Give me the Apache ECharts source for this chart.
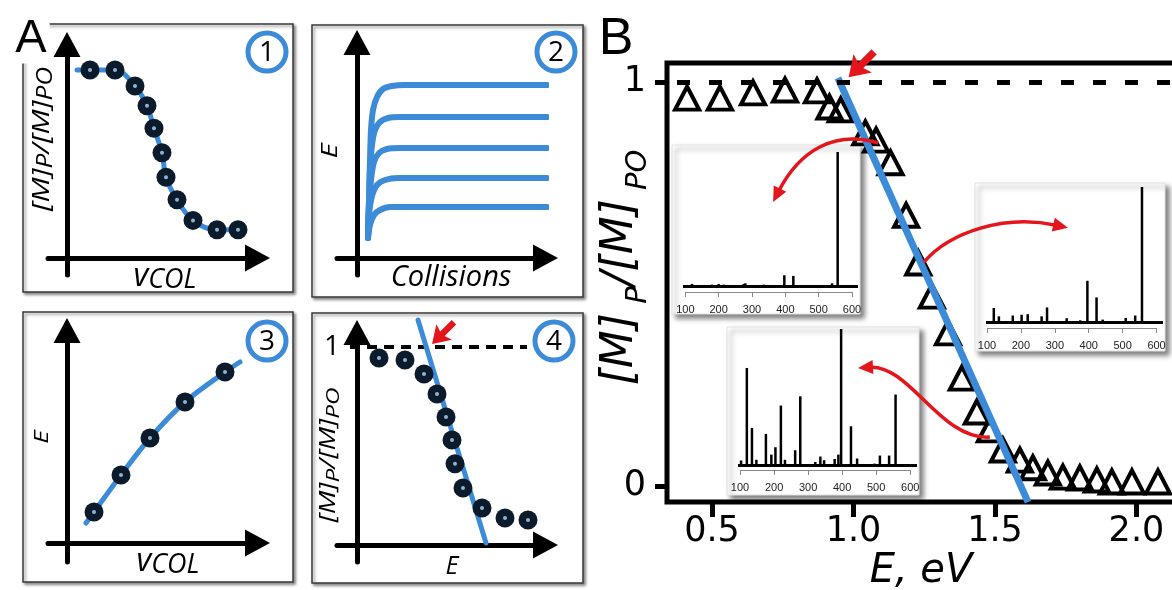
<!DOCTYPE html>
<html>
<head>
<meta charset="utf-8">
<script src="https://cdn.jsdelivr.net/npm/echarts@6/dist/echarts.min.js"></script>
<style>
  html, body { margin: 0; padding: 0; background: #fff; }
  #c { width: 1172px; height: 590px; }
</style>
</head>
<body>
<div id="c"></div>
<script>
// ---------- Panel A, sketch 1: normalised precursor signal vs collision voltage ----------
const a1FitX = [0.5, 1.15, 2.4, 3.4, 4.0, 4.35, 4.75, 4.95, 5.5, 6.3, 7.5, 8.55];
const a1FitY = [1.0, 1.0, 1.0, 0.915, 0.81, 0.69, 0.56, 0.43, 0.31, 0.2, 0.15, 0.15];
const a1DotX = [1.15, 2.4, 3.4, 4.0, 4.35, 4.75, 4.95, 5.5, 6.3, 7.5, 8.55];
const a1DotY = [1.0, 1.0, 0.915, 0.81, 0.69, 0.56, 0.43, 0.31, 0.2, 0.15, 0.15];

// ---------- sketch 2: internal energy vs number of collisions (one curve per voltage) ----------
const a2CurveX = [
  [0.55, 0.6, 0.65, 0.7, 0.8, 1.0, 1.3, 1.75, 2.4, 9.5],
  [0.55, 0.6, 0.65, 0.75, 0.9, 1.15, 1.55, 2.15, 9.5],
  [0.55, 0.6, 0.7, 0.85, 1.1, 1.5, 2.15, 9.5],
  [0.55, 0.6, 0.75, 1.0, 1.4, 2.05, 9.5],
  [0.55, 0.65, 0.85, 1.15, 1.65, 2.4, 9.5]
];
const a2CurveY = [
  [1.0, 2.9, 4.9, 6.4, 7.4, 8.05, 8.45, 8.6, 8.65, 8.65],
  [1.0, 2.9, 4.4, 5.65, 6.4, 6.8, 7.0, 7.05, 7.05],
  [1.0, 2.65, 3.9, 4.8, 5.25, 5.45, 5.5, 5.5],
  [1.0, 2.15, 3.1, 3.65, 3.9, 4.0, 4.0],
  [1.0, 1.65, 2.15, 2.4, 2.55, 2.55, 2.55]
];

// ---------- sketch 3: energy vs collision voltage ----------
const a3FitX = [0.95, 1.35, 2.7, 4.15, 5.9, 7.9, 8.65];
const a3FitY = [1.0, 1.55, 3.4, 5.25, 7.05, 8.55, 9.05];
const a3DotX = [1.35, 2.7, 4.15, 5.9, 7.9];
const a3DotY = [1.55, 3.4, 5.25, 7.05, 8.55];

// ---------- sketch 4: survival vs energy with linear onset fit ----------
const a4DotX = [1.1, 2.4, 3.35, 4.0, 4.45, 4.75, 4.9, 5.3, 6.25, 7.4, 8.55];
const a4DotY = [0.944, 0.934, 0.864, 0.763, 0.646, 0.53, 0.41, 0.288, 0.187, 0.136, 0.126];
const a4FitX = [3.05, 6.45];
const a4FitY = [1.136, 0.01];
const a4UnityX = [-0.35, 8.5];

// ---------- Panel B: measured survival yield vs collision energy ----------
const bEnergy = [0.412, 0.528, 0.645, 0.758, 0.871, 0.915, 0.955, 1.042, 1.080, 1.131, 1.186, 1.229,
  1.277, 1.334, 1.383, 1.436, 1.482, 1.528, 1.588, 1.634, 1.687, 1.740, 1.800, 1.860, 1.913, 1.984, 2.076];
const bSurvival = [0.960, 0.960, 0.973, 0.980, 0.978, 0.938, 0.931, 0.874, 0.856, 0.800, 0.670, 0.552,
  0.470, 0.379, 0.267, 0.183, 0.139, 0.089, 0.064, 0.045, 0.032, 0.022, 0.020, 0.015, 0.010, 0.010, 0.010];
const bFitE = [0.945, 1.617];
const bFitS = [1.01, -0.04];
const bTicksE = [0.5, 1.0, 1.5, 2.0];
const bTicksS = [0, 1];

// ---------- inset mass spectra (m/z, relative intensity %) ----------
const spec1Mz  = [120, 180, 200, 215, 275, 280, 335, 397, 424, 540, 557];
const spec1Int = [1.5, 1, 1.5, 1, 1.5, 2, 1, 8, 7.5, 2, 100];
const spec2Mz  = [103, 120, 135, 176, 202, 220, 261, 277, 335, 375, 396, 423, 441, 509, 537, 557];
const spec2Int = [1, 10.6, 4.4, 5, 5.6, 6, 4.4, 11, 3, 1.5, 30.7, 18.4, 2, 3.2, 5, 100];
const spec3Mz  = [103, 120, 135, 148, 176, 192, 204, 220, 232, 262, 277, 321, 336, 347, 378, 389, 397,
  426, 444, 495, 511, 538, 557];
const spec3Int = [3.5, 71.4, 27.4, 4, 23, 7.8, 13.2, 43.8, 4, 11, 50.6, 2.4, 6.4, 3.7, 4.6, 7.8, 100,
  28.6, 4.9, 1.2, 7.1, 7.1, 51.9];
const mzTicks = [100, 200, 300, 400, 500, 600];

// annotation arrows in panel B, cubic Bezier control points in (eV, fraction) units
const bCurvedArrows = [
  [[1.087, 0.849], [0.935, 0.881], [0.811, 0.832], [0.716, 0.703]],
  [[1.249, 0.554], [1.341, 0.629], [1.535, 0.673], [1.758, 0.639]],
  [[1.482, 0.121], [1.306, 0.114], [1.200, 0.300], [1.016, 0.292]]
];

const zip = (xs, ys) => xs.map((x, i) => [x, ys[i]]);

const BLUE = '#3b8bd9';
const NAVY = '#0c1b2c';
const RED = '#e4151b';
const ARROW_PATH = 'path://M14,0 L28,21 L18,18 L18,38 L10,38 L10,18 L0,21 Z';
const ITALIC = 'Open Sans';
const SANS = 'Liberation Sans';
const WIDE = 'DejaVu Sans';

// ---------- layout: panel A sketches ----------
const sketches = [
  { left: 48,  top: 44.5,  width: 209.5, height: 230.5, x: [-0.95, 9.525], y: [-0.0904, 1.1356] },
  { left: 337, top: 42.5,  width: 208.5, height: 232.5, x: [-1.0, 9.425],  y: [-0.85, 10.775] },
  { left: 48,  top: 330.5, width: 209.5, height: 231.5, x: [-0.95, 9.525], y: [-0.95, 10.625] },
  { left: 337, top: 332.5, width: 208.5, height: 229.5, x: [-1.0, 9.425],  y: [-0.0859, 1.0732] }
];
const insets = [
  { left: 683, top: 152, width: 175, height: 140, x: [93, 618], y: [-4.5, 100] },
  { left: 986, top: 187, width: 177, height: 141, x: [97, 619], y: [-4.2, 100] },
  { left: 738, top: 329, width: 179, height: 141, x: [94, 620], y: [-3.5, 100] }
];
// the main frame runs on past the right edge of the canvas
const B = { left: 667, top: 63, width: 530, height: 439, x: [0.341, 2.214], y: [-0.0396, 1.047] };

const grids = [], xAxes = [], yAxes = [], series = [];

sketches.forEach((s, i) => {
  grids.push({ left: s.left, top: s.top, width: s.width, height: s.height, outerBoundsMode: 'none' });
  const line = {
    show: true, onZero: true, symbol: ['none', 'triangle'], symbolSize: [27, 25],
    lineStyle: { color: '#000', width: 5 }
  };
  xAxes.push({ type: 'value', gridIndex: i, min: s.x[0], max: s.x[1], axisLine: line,
    axisTick: { show: false }, axisLabel: { show: false }, splitLine: { show: false } });
  yAxes.push({ type: 'value', gridIndex: i, min: s.y[0], max: s.y[1], axisLine: line,
    axisTick: { show: false }, splitLine: { show: false },
    axisLabel: i === 3
      ? { show: true, customValues: [1], margin: -3, fontSize: 28, fontFamily: ITALIC, color: '#000' }
      : { show: false } });
});

// panel B main frame
grids.push({ left: B.left, top: B.top, width: B.width, height: B.height, show: true, outerBoundsMode: 'none',
  borderColor: '#000', borderWidth: 5, backgroundColor: 'transparent' });
xAxes.push({
  type: 'value', gridIndex: 4, min: B.x[0], max: B.x[1],
  axisLine: { show: false, onZero: false },
  axisTick: { show: true, customValues: bTicksE, length: 15, lineStyle: { color: '#000', width: 5 } },
  axisLabel: { show: true, customValues: bTicksE, margin: 12, fontSize: 35, fontFamily: WIDE, color: '#000',
    formatter: v => v.toFixed(1) },
  splitLine: { show: false },
  name: 'E, eV', nameLocation: 'middle', nameGap: 50, nameMoveOverlap: false,
  nameTextStyle: { fontSize: 40, fontStyle: 'italic', fontFamily: WIDE, color: '#000', padding: [0, 22, 0, 0] }
});
yAxes.push({
  type: 'value', gridIndex: 4, min: B.y[0], max: B.y[1],
  axisLine: { show: false, onZero: false },
  axisTick: { show: true, customValues: bTicksS, length: 12, lineStyle: { color: '#000', width: 5 } },
  axisLabel: { show: true, customValues: bTicksS, margin: 21, fontSize: 35, fontFamily: WIDE, color: '#000' },
  splitLine: { show: false },
  name: '{m|[M]}{s| P}{m|/[M]}{s| PO}', nameLocation: 'middle', nameRotate: 90, nameGap: 14,
  nameMoveOverlap: false,
  nameTextStyle: {
    padding: [0, 0, 0, 30],
    rich: {
      m: { fontSize: 44, fontStyle: 'italic', fontFamily: WIDE, color: '#000', lineHeight: 64, verticalAlign: 'middle' },
      s: { fontSize: 29, fontStyle: 'italic', fontFamily: WIDE, color: '#000', lineHeight: 30, verticalAlign: 'bottom' }
    }
  }
});

// inset spectra axes
insets.forEach((s, k) => {
  const gi = 5 + k;
  grids.push({ left: s.left, top: s.top, width: s.width, height: s.height, outerBoundsMode: 'none' });
  xAxes.push({
    type: 'value', gridIndex: gi, min: s.x[0], max: s.x[1], z: 5,
    axisLine: { show: false, onZero: false },
    axisTick: { show: true, customValues: mzTicks, length: 5, lineStyle: { color: '#888', width: 1 } },
    axisLabel: { show: true, customValues: mzTicks, margin: 12, fontSize: 11, fontFamily: SANS, color: '#222' },
    splitLine: { show: false }
  });
  yAxes.push({ type: 'value', gridIndex: gi, min: s.y[0], max: s.y[1], show: false, splitLine: { show: false } });
});

// ---------- series: panel A ----------
const dots = (gi, xs, ys) => [
  { type: 'scatter', xAxisIndex: gi, yAxisIndex: gi, data: zip(xs, ys), symbol: 'circle', symbolSize: 19,
    itemStyle: { color: NAVY, opacity: 1 }, z: 4, silent: true },
  { type: 'scatter', xAxisIndex: gi, yAxisIndex: gi, data: zip(xs, ys), symbol: 'circle', symbolSize: 4,
    itemStyle: { color: '#8fb4d4', opacity: 1 }, z: 5, silent: true }
];
const blueLine = (gi, data, width, smooth) => ({
  type: 'line', xAxisIndex: gi, yAxisIndex: gi, data, showSymbol: false, smooth,
  clip: false, lineStyle: { color: BLUE, width, cap: 'round', join: 'round' }, z: 3, silent: true
});

series.push(blueLine(0, zip(a1FitX, a1FitY), 5, 0.35), ...dots(0, a1DotX, a1DotY));
a2CurveX.forEach((xs, i) => series.push(blueLine(1, zip(xs, a2CurveY[i]), 6, 0.3)));
series.push(blueLine(2, zip(a3FitX, a3FitY), 5, 0.35), ...dots(2, a3DotX, a3DotY));
series.push({
  type: 'line', xAxisIndex: 3, yAxisIndex: 3, data: zip(a4UnityX, [1, 1]), showSymbol: false, clip: false,
  lineStyle: { color: '#000', width: 4, type: [10, 7] }, z: 3, silent: true
});
series.push(Object.assign(blueLine(3, zip(a4FitX, a4FitY), 5, false), {
  markPoint: { symbol: ARROW_PATH, symbolSize: [22, 31], symbolRotate: 135, silent: true,
    itemStyle: { color: RED }, label: { show: false }, data: [{ coord: [4.3, 1.07] }] }
}));
series.push(...dots(3, a4DotX, a4DotY));

// ---------- series: panel B ----------
series.push({
  type: 'scatter', xAxisIndex: 4, yAxisIndex: 4, data: zip(bEnergy, bSurvival),
  symbol: 'triangle', symbolSize: [24, 23],
  itemStyle: { color: 'rgba(0,0,0,0)', borderColor: '#000', borderWidth: 4, opacity: 1,
    borderJoin: 'miter', borderMiterLimit: 10 },
  z: 3, silent: true,
  markLine: {
    silent: true, symbol: ['none', 'none'], label: { show: false },
    lineStyle: { color: '#000', width: 5, type: [13, 19], dashOffset: 22 },
    data: [{ yAxis: 1 }]
  }
});
series.push({
  type: 'line', xAxisIndex: 4, yAxisIndex: 4, data: zip(bFitE, bFitS), showSymbol: false, clip: false,
  lineStyle: { color: BLUE, width: 7 }, z: 4, silent: true,
  markPoint: { symbol: ARROW_PATH, symbolSize: [26, 36], symbolRotate: 135, silent: true,
    itemStyle: { color: RED }, label: { show: false }, data: [{ coord: [1.028, 1.043] }] }
});
series.push({
  type: 'custom', xAxisIndex: 4, yAxisIndex: 4, z: 6, silent: true, clip: false,
  data: bCurvedArrows.map(a => a[3]),
  renderItem: (params, api) => {
    const p = bCurvedArrows[params.dataIndex].map(c => api.coord(c));
    const tip = p[3];
    const ang = Math.atan2(tip[1] - p[2][1], tip[0] - p[2][0]);
    const L = 15, W = 7;
    const c = Math.cos(ang), s = Math.sin(ang);
    const base = [tip[0] - L * c, tip[1] - L * s];
    return {
      type: 'group',
      children: [
        { type: 'bezierCurve',
          shape: { x1: p[0][0], y1: p[0][1], cpx1: p[1][0], cpy1: p[1][1], cpx2: p[2][0], cpy2: p[2][1],
                   x2: base[0] + 3 * c, y2: base[1] + 3 * s },
          style: { stroke: RED, lineWidth: 3.5, fill: 'none' } },
        { type: 'polygon',
          shape: { points: [tip, [base[0] + W * s, base[1] - W * c], [base[0] - W * s, base[1] + W * c]] },
          style: { fill: RED } }
      ]
    };
  }
});

// inset spectra
const specMz = [spec1Mz, spec2Mz, spec3Mz];
const specInt = [spec1Int, spec2Int, spec3Int];
insets.forEach((s, k) => {
  const gi = 5 + k;
  series.push({
    type: 'bar', xAxisIndex: gi, yAxisIndex: gi, data: zip(specMz[k], specInt[k]),
    barWidth: 2.5, itemStyle: { color: '#000' }, z: 3, silent: true, animation: false,
    markLine: {
      silent: true, symbol: ['none', 'none'], label: { show: false }, animation: false,
      data: [
        [{ coord: [s.x[0], 0], lineStyle: { color: '#000', width: 3, type: 'solid' } }, { coord: [s.x[1], 0] }],
        [{ coord: [100, s.y[0]], lineStyle: { color: '#888', width: 1, type: 'solid' } }, { coord: [600, s.y[0]] }]
      ]
    }
  });
});

// ---------- framing: sketch boxes, inset cards, labels ----------
const boxStyle = { fill: '#fff', stroke: '#3a3a3a', lineWidth: 1.5, shadowBlur: 3, shadowOffsetX: 2,
  shadowOffsetY: 2, shadowColor: 'rgba(0,0,0,0.45)' };
const cardStyle = { fill: '#fff', stroke: '#e2e2e2', lineWidth: 1, shadowBlur: 5, shadowOffsetX: 4,
  shadowOffsetY: 4, shadowColor: 'rgba(0,0,0,0.5)' };
const boxes = [[23, 24, 270, 268], [312, 25, 271, 272], [23, 312, 270, 270], [312, 313, 271, 270]];
const cards = [[672, 145, 188, 169], [975, 183, 190, 168], [727, 327, 192, 168]];
const badges = [[267, 52, '1'], [556, 52, '2'], [267, 341, '3'], [554, 341, '4']];

// rotated labels are stretched along their reading direction
const ratioLabel = (x, y, big, small, stretch) => ({
  type: 'text', x, y, rotation: Math.PI / 2, scaleX: stretch, z: 10, silent: true,
  style: {
    text: '{m|[M]}{s|P}{m|/[M]}{s|PO}', align: 'center', verticalAlign: 'middle', fill: '#000',
    rich: {
      m: { fontSize: big, fontStyle: 'italic', fontFamily: ITALIC, lineHeight: big + 6, verticalAlign: 'middle' },
      s: { fontSize: small, fontStyle: 'italic', fontFamily: ITALIC, lineHeight: small, verticalAlign: 'bottom' }
    }
  }
});
const plainLabel = (x, y, text, size, rot, stretch) => ({
  type: 'text', x, y, rotation: rot || 0, scaleX: stretch || 1, z: 10, silent: true,
  style: { text, align: 'center', verticalAlign: 'middle', fill: '#000',
    fontSize: size, fontStyle: 'italic', fontFamily: ITALIC }
});
const vcolLabel = (x, y) => ({
  type: 'text', x, y, z: 10, silent: true,
  style: {
    text: '{v|v}{c|COL}', align: 'center', verticalAlign: 'middle', fill: '#000',
    rich: {
      v: { fontSize: 32, fontStyle: 'italic', fontFamily: ITALIC, lineHeight: 34, verticalAlign: 'middle' },
      c: { fontSize: 27, fontStyle: 'italic', fontFamily: ITALIC, lineHeight: 26, verticalAlign: 'bottom' }
    }
  }
});

const graphic = [];
boxes.forEach(b => graphic.push({ type: 'rect', z: -1, silent: true,
  shape: { x: b[0], y: b[1], width: b[2], height: b[3] }, style: boxStyle }));
cards.forEach(b => graphic.push({ type: 'rect', z: 1, silent: true,
  shape: { x: b[0], y: b[1], width: b[2], height: b[3] }, style: cardStyle }));
badges.forEach(b => {
  graphic.push({ type: 'circle', z: 10, silent: true, shape: { cx: b[0], cy: b[1], r: 19 },
    style: { fill: '#fff', stroke: BLUE, lineWidth: 5 } });
  graphic.push({ type: 'text', z: 11, silent: true, x: b[0], y: b[1] + 1,
    style: { text: b[2], align: 'center', verticalAlign: 'middle', fill: '#000', fontSize: 28, fontFamily: ITALIC } });
});
graphic.push(ratioLabel(42, 139, 24, 21, 1.25));
graphic.push(ratioLabel(329, 455, 22, 19, 1.28));
graphic.push(plainLabel(331, 151, 'E', 21, Math.PI / 2, 1.4));
graphic.push(plainLabel(42, 437, 'E', 20, Math.PI / 2, 1.3));
graphic.push(plainLabel(451, 278, 'Collisions', 29));
graphic.push(plainLabel(452, 567, 'E', 25));
graphic.push(vcolLabel(165, 277));
graphic.push(vcolLabel(168, 562));
graphic.push({ type: 'text', z: 12, silent: true, x: 31, y: 39,
  style: { text: 'A', align: 'center', verticalAlign: 'middle', fill: '#000', fontSize: 47, fontFamily: SANS,
    backgroundColor: '#fff', padding: [2, 3, 0, 3] } });
graphic.push({ type: 'text', z: 12, silent: true, x: 616, y: 40,
  style: { text: 'B', align: 'center', verticalAlign: 'middle', fill: '#000', fontSize: 52, fontFamily: SANS } });

const chart = echarts.init(document.getElementById('c'), null, { renderer: 'canvas', width: 1172, height: 590 });
chart.setOption({
  animation: false,
  backgroundColor: '#fff',
  grid: grids,
  xAxis: xAxes,
  yAxis: yAxes,
  series,
  graphic
});
</script>
</body>
</html>
